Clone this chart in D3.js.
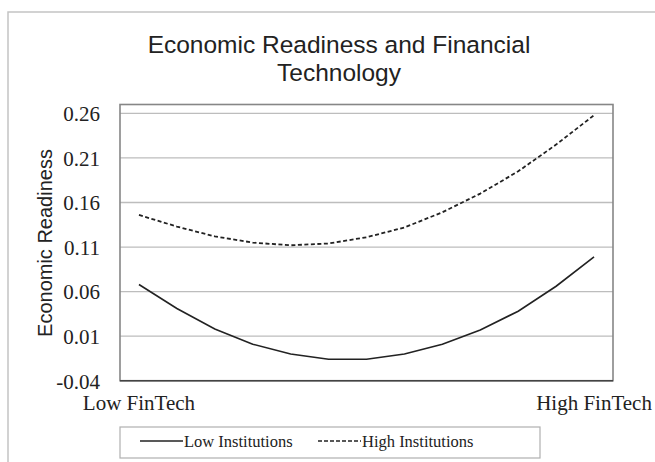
<!DOCTYPE html>
<html>
<head>
<meta charset="utf-8">
<script src="https://cdn.jsdelivr.net/npm/d3@7"></script>
<style>
  body { margin: 0; background: #fff; }
  svg { display: block; }
  .tick-label { font-family: "Liberation Serif", "Times New Roman", serif; font-size: 21px; fill: #222; }
</style>
</head>
<body>
<svg id="chart" width="655" height="462"></svg>
<script>
// categories along the x axis (only the ends are labelled)
let categories = ["Low FinTech", "", "", "", "", "", "", "", "", "", "", "", "High FinTech"];
// series values
let lowInstitutions = [0.068, 0.041, 0.018, 0.001, -0.010, -0.016, -0.016, -0.010, 0.001, 0.017, 0.038, 0.066, 0.099];
let highInstitutions = [0.146, 0.133, 0.122, 0.115, 0.112, 0.114, 0.121, 0.132, 0.149, 0.170, 0.195, 0.225, 0.258];
let yTicks = [-0.04, 0.01, 0.06, 0.11, 0.16, 0.21, 0.26];
let seriesNames = ["Low Institutions", "High Institutions"];

const svg = d3.select('#chart');
const plot = { left: 120, right: 613, top: 104.5, bottom: 380.7 };

// outer chart border
svg.append('rect')
    .attr('x', 8).attr('y', 12)
    .attr('width', 660).attr('height', 470)
    .attr('fill', 'none').attr('stroke', '#c4c4c4').attr('stroke-width', 1.5);

let x = d3.scaleBand()
    .domain(d3.range(categories.length))
    .range([plot.left, plot.right]);

let y = d3.scaleLinear()
    .domain([-0.04, 0.27])
    .range([plot.bottom, plot.top]);

// gridlines
svg.append('g')
    .selectAll('line')
    .data(yTicks.slice(1))
    .enter().append('line')
    .attr('x1', plot.left).attr('x2', plot.right)
    .attr('y1', d => y(d)).attr('y2', d => y(d))
    .attr('stroke', '#bdbdbd').attr('stroke-width', 1.3);

// plot area frame
svg.append('rect')
    .attr('x', plot.left).attr('y', plot.top)
    .attr('width', plot.right - plot.left).attr('height', plot.bottom - plot.top)
    .attr('fill', 'none').attr('stroke', '#868686').attr('stroke-width', 1.6);

// bottom axis line a bit darker
svg.append('line')
    .attr('x1', plot.left).attr('x2', plot.right)
    .attr('y1', plot.bottom).attr('y2', plot.bottom)
    .attr('stroke', '#444').attr('stroke-width', 1.4);

// y axis labels (plain hyphen for negatives, like the original)
const yAxis = d3.axisLeft(y)
    .tickValues(yTicks)
    .tickSize(0)
    .tickPadding(20)
    .tickFormat(d => d.toFixed(2));

const yG = svg.append('g')
    .attr('transform', `translate(${plot.left},0)`)
    .call(yAxis);
yG.select('.domain').remove();
yG.selectAll('text').attr('class', 'tick-label').attr('dy', '0.35em');

// x axis labels
const xAxis = d3.axisBottom(x)
    .tickSize(0)
    .tickPadding(14)
    .tickFormat(i => categories[i]);

const xG = svg.append('g')
    .attr('transform', `translate(0,${plot.bottom})`)
    .call(xAxis);
xG.select('.domain').remove();
xG.selectAll('text').attr('class', 'tick-label').attr('dy', '0.71em');

// lines
const line = d3.line()
    .x((d, i) => x(i) + x.bandwidth() / 2)
    .y(d => y(d));

svg.append('path')
    .datum(lowInstitutions)
    .attr('d', line)
    .attr('fill', 'none').attr('stroke', '#222').attr('stroke-width', 1.6);

svg.append('path')
    .datum(highInstitutions)
    .attr('d', line)
    .attr('fill', 'none').attr('stroke', '#222').attr('stroke-width', 1.8)
    .attr('stroke-dasharray', '4,2.5');

// title
svg.append('text')
    .attr('x', 339).attr('y', 0)
    .attr('text-anchor', 'middle')
    .style('font-family', '"Liberation Sans", Arial, sans-serif')
    .style('font-size', '24.5px')
    .style('fill', '#222')
    .selectAll('tspan')
    .data(["Economic Readiness and Financial", "Technology"])
    .enter().append('tspan')
    .attr('x', 339)
    .attr('y', (d, i) => 53 + i * 28)
    .text(d => d);

// y axis title
svg.append('text')
    .attr('transform', 'translate(52,243) rotate(-90)')
    .attr('text-anchor', 'middle')
    .style('font-family', '"Liberation Sans", Arial, sans-serif')
    .style('font-size', '20px')
    .style('fill', '#222')
    .text('Economic Readiness');

// legend
const legend = svg.append('g');
legend.append('rect')
    .attr('x', 120).attr('y', 427)
    .attr('width', 420).attr('height', 31)
    .attr('fill', 'none').attr('stroke', '#b0b0b0').attr('stroke-width', 1.2);

const legendItems = [
    { name: seriesNames[0], x: 140, dash: null },
    { name: seriesNames[1], x: 318, dash: '4,2' }
];
legendItems.forEach(item => {
    legend.append('line')
        .attr('x1', item.x).attr('x2', item.x + 43)
        .attr('y1', 441).attr('y2', 441)
        .attr('stroke', '#222').attr('stroke-width', 1.6)
        .attr('stroke-dasharray', item.dash);
    legend.append('text')
        .attr('class', 'tick-label')
        .attr('x', item.x + 44).attr('y', 447)
        .style('font-size', '16.5px')
        .text(item.name);
});
</script>
</body>
</html>
